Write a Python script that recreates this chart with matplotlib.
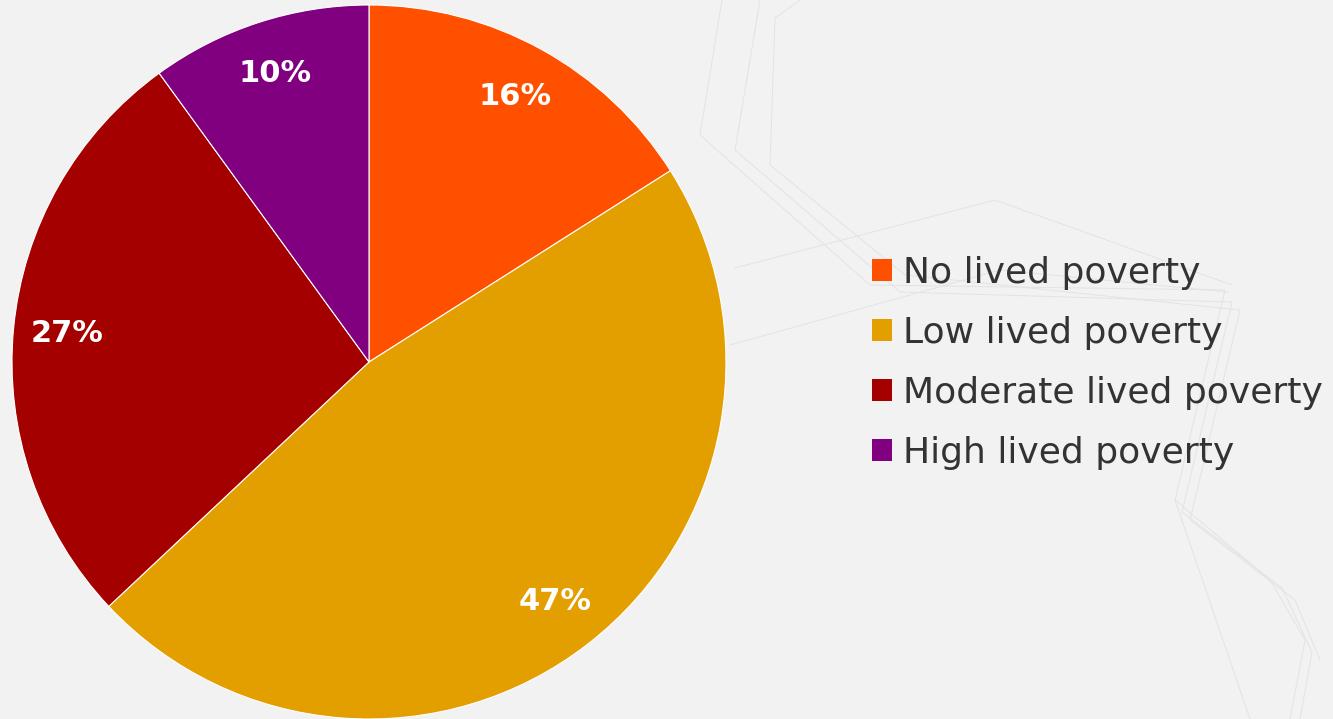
import matplotlib
matplotlib.use("Agg")
import matplotlib.pyplot as plt
from matplotlib.lines import Line2D

categories = ["No lived poverty", "Low lived poverty", "Moderate lived poverty", "High lived poverty"]
values = [16, 47, 27, 10]
colors = ["#FF5000", "#E39E00", "#A50000", "#800080"]

plt.rcParams['font.family'] = ['DejaVu Sans']

W, H = 1333, 719
fig = plt.figure(figsize=(W / 100, H / 100), dpi=100)
fig.patch.set_facecolor("#F2F2F2")

# faint decorative background lines (pixel paths, top-left origin)
deco = [
    [(722, 0), (700, 135), (870, 285), (1225, 290), (1175, 500), (1270, 580), (1305, 640), (1290, 719)],
    [(760, 0), (735, 150), (900, 292), (1232, 302), (1182, 512), (1282, 588), (1312, 652), (1300, 719)],
    [(800, 0), (775, 18), (770, 165), (905, 275), (1240, 310), (1190, 520), (1295, 600), (1320, 660)],
    [(730, 345), (1000, 270), (1228, 292)],
    [(735, 268), (995, 200), (1232, 285)],
    [(1175, 500), (1250, 719)],
]
for pts in deco:
    xs = [p[0] / W for p in pts]
    ys = [1 - p[1] / H for p in pts]
    fig.add_artist(Line2D(xs, ys, transform=fig.transFigure, color="#E3E3E3", lw=0.7, zorder=0))

ax = fig.add_axes([12 / W, 0.0, 714 / W, 714 / H])
ax.set_facecolor("none")
wedges, texts, autotexts = ax.pie(
    values, colors=colors, startangle=90, counterclock=False,
    autopct=lambda p: f"{p:.0f}%", pctdistance=0.85,
    wedgeprops=dict(linewidth=0.8, edgecolor="white"),
    textprops=dict(color="white", fontsize=22, fontweight="bold"),
)
ax.set_xlim(-1, 1)
ax.set_ylim(-1, 1)
ax.set_aspect("equal")
ax.axis("off")

leg = fig.legend(
    wedges, categories, loc="center left", bbox_to_anchor=(872 / W, 1 - 362.5 / H),
    frameon=False, fontsize=26, handlelength=0.55, handleheight=0.55,
    handletextpad=0.3, labelspacing=0.72, borderpad=0, borderaxespad=0,
    labelcolor="#333333",
)
for h in leg.legend_handles:
    h.set_edgecolor("none")

fig.savefig("out.png", dpi=100, facecolor=fig.get_facecolor())
